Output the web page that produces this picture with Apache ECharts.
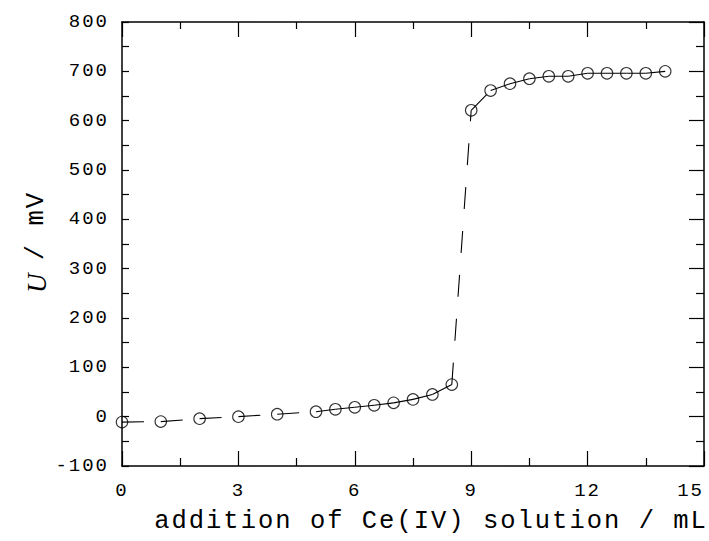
<!DOCTYPE html>
<html>
<head>
<meta charset="utf-8">
<script src="https://cdn.jsdelivr.net/npm/echarts@6/dist/echarts.min.js"></script>
<style>
  html, body { margin: 0; padding: 0; background: #fff; overflow: hidden; }
  #chart { width: 709px; height: 541px; }
  #chart svg text, #chart svg tspan { letter-spacing: 2px; }
</style>
</head>
<body>
<div id="chart"></div>
<script>
// ---- data ----
var volumes = [0, 1, 2, 3, 4, 5, 5.5, 6, 6.5, 7, 7.5, 8, 8.5, 9, 9.5, 10, 10.5, 11, 11.5, 12, 12.5, 13, 13.5, 14];
var potentials = [-11, -10, -4, 0, 5, 10, 15, 19, 23, 28, 35, 45, 65, 621, 661, 675, 685, 690, 690, 696, 696, 696, 696, 700];
var xTicks = [0, 3, 6, 9, 12, 15];
var yTicks = [-100, 0, 100, 200, 300, 400, 500, 600, 700, 800];
var xTitle = 'addition of Ce(IV) solution / mL';
var yTitleSymbol = 'U';
var yTitleUnit = ' / mV';

var FONT = 'Liberation Mono';
var points = volumes.map(function (v, i) { return [v, potentials[i]]; });

var series = [];
for (var i = 0; i < points.length - 1; i++) {
  series.push({
    type: 'line',
    data: [points[i], points[i + 1]],
    symbol: 'none',
    silent: true,
    lineStyle: { color: '#000', width: 1.1, type: [22, 22] },
    z: 2
  });
}
series.push({
  type: 'scatter',
  data: points,
  symbol: 'circle',
  symbolSize: 11.5,
  itemStyle: { color: 'rgba(0,0,0,0)', borderColor: '#000', borderWidth: 1.1 },
  z: 3
});

function axisLine() { return { show: true, onZero: false, lineStyle: { color: '#000', width: 1.5 } }; }

var option = {
  backgroundColor: '#fff',
  animation: false,
  grid: { left: 122, right: 5, top: 22, bottom: 75, containLabel: false, outerBoundsMode: 'none' },
  xAxis: [{
    type: 'value', position: 'bottom',
    min: xTicks[0], max: xTicks[xTicks.length - 1], interval: xTicks[1] - xTicks[0],
    axisLine: axisLine(),
    axisTick: { show: true, inside: true, length: 15, lineStyle: { color: '#000', width: 1.2 } },
    minorTick: { show: true, splitNumber: 2, length: 8, lineStyle: { color: '#000', width: 1.2 } },
    splitLine: { show: false },
    axisLabel: { color: '#000', fontFamily: FONT, fontSize: 19, margin: 15, hideOverlap: false, alignMaxLabel: 'right' },
    name: xTitle, nameLocation: 'middle', nameGap: 42,
    nameTextStyle: { color: '#000', fontFamily: FONT, fontSize: 25.5, padding: [0, 0, 0, 36] }
  }, {
    type: 'value', position: 'top',
    min: xTicks[0], max: xTicks[xTicks.length - 1], interval: xTicks[1] - xTicks[0],
    axisLine: axisLine(),
    axisTick: { show: true, inside: true, length: 15, lineStyle: { color: '#000', width: 1.2 } },
    minorTick: { show: true, splitNumber: 2, length: 7, lineStyle: { color: '#000', width: 1.2 } },
    splitLine: { show: false },
    axisLabel: { show: false }
  }],
  yAxis: [{
    type: 'value', position: 'left',
    min: yTicks[0], max: yTicks[yTicks.length - 1], interval: yTicks[1] - yTicks[0],
    axisLine: axisLine(),
    axisTick: { show: true, inside: true, length: 7, lineStyle: { color: '#000', width: 1.2 } },
    minorTick: { show: true, splitNumber: 2, length: 7, lineStyle: { color: '#000', width: 1.2 } },
    splitLine: { show: false },
    axisLabel: { color: '#000', fontFamily: FONT, fontSize: 19, margin: 13 },
    name: '{i|' + yTitleSymbol + '}{n|' + yTitleUnit + '}', nameLocation: 'middle', nameGap: 72,
    nameTextStyle: {
      color: '#000', fontFamily: FONT, fontSize: 25.5,
      rich: {
        i: { fontFamily: 'Liberation Serif', fontSize: 27, fontStyle: 'italic', fontWeight: 'normal', color: '#000' },
        n: { fontFamily: FONT, fontSize: 25.5, fontWeight: 'normal', color: '#000' }
      }
    }
  }, {
    type: 'value', position: 'right',
    min: yTicks[0], max: yTicks[yTicks.length - 1], interval: yTicks[1] - yTicks[0],
    axisLine: axisLine(),
    axisTick: { show: true, inside: true, length: 15, lineStyle: { color: '#000', width: 1.2 } },
    minorTick: { show: true, splitNumber: 2, length: 8, lineStyle: { color: '#000', width: 1.2 } },
    splitLine: { show: false },
    axisLabel: { show: false }
  }],
  series: series
};

var chart = echarts.init(document.getElementById('chart'), null, { renderer: 'svg', width: 709, height: 541 });
chart.setOption(option);
</script>
</body>
</html>
